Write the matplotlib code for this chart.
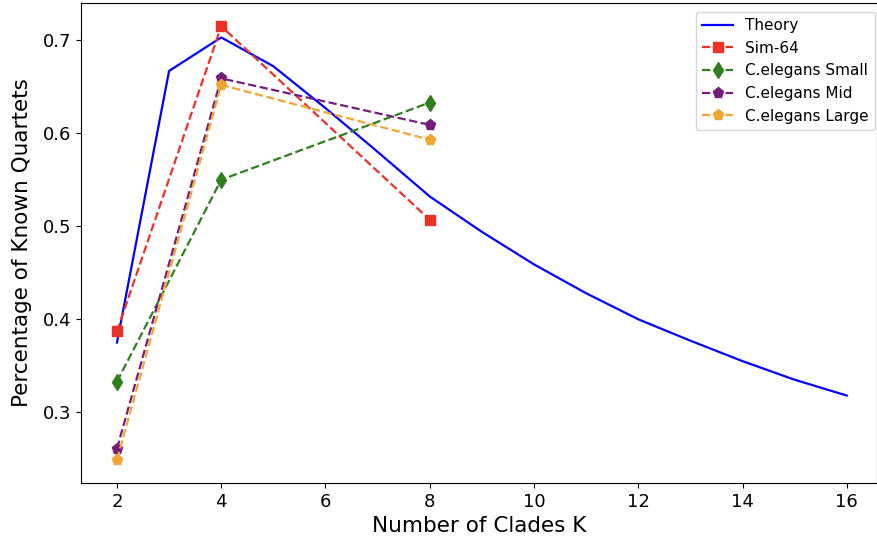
import matplotlib
matplotlib.use("Agg")
import matplotlib.pyplot as plt

theory_k = [2, 3, 4, 5, 6, 7, 8, 9, 10, 11, 12, 13, 14, 15, 16]
theory_v = [0.375, 0.667, 0.703, 0.672, 0.627, 0.580, 0.532, 0.494, 0.459,
            0.428, 0.400, 0.377, 0.355, 0.335, 0.318]

exp_k = [2, 4, 8]
sim64 = [0.387, 0.715, 0.507]
small = [0.333, 0.550, 0.633]
mid = [0.261, 0.659, 0.609]
large = [0.249, 0.652, 0.593]

fig = plt.figure(figsize=(8.77, 5.38), dpi=100)
ax = fig.add_axes([81/877, (538-483)/538, (877-81)/877, (483-3)/538])

ax.plot(theory_k, theory_v, color='blue', lw=1.6, label='Theory')
ax.plot(exp_k, sim64, color='#ec3226', ls='--', lw=1.6, marker='s', ms=7, label='Sim-64')
ax.plot(exp_k, small, color='#2f7f1f', ls='--', lw=1.6, marker='d', ms=8, label='C.elegans Small')
ax.plot(exp_k, mid, color='#741e7c', ls='--', lw=1.6, marker='p', ms=8, label='C.elegans Mid')
ax.plot(exp_k, large, color='#f2a535', ls='--', lw=1.6, marker='p', ms=8, label='C.elegans Large')

ax.set_xlim(1.31, 16.58)
ax.set_ylim(0.224, 0.740)
ax.set_xticks([2, 4, 6, 8, 10, 12, 14, 16])
ax.set_yticks([0.3, 0.4, 0.5, 0.6, 0.7])
ax.tick_params(labelsize=13)
ax.set_xlabel('Number of Clades K', fontsize=15.5)
ax.set_ylabel('Percentage of Known Quartets', fontsize=15.5, labelpad=8)
ax.legend(loc='upper right', fontsize=11, bbox_to_anchor=(1.007, 0.997))

fig.savefig('out.png', dpi=100)
